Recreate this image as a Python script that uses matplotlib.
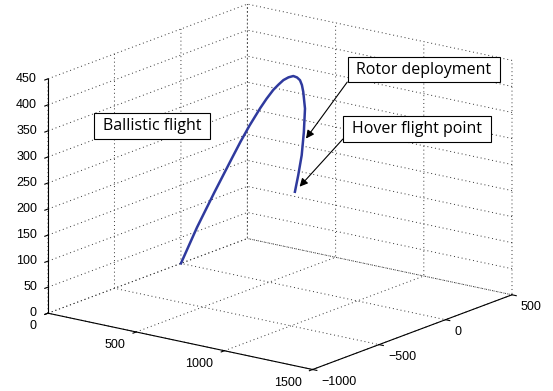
import matplotlib
matplotlib.use("Agg")
import matplotlib.pyplot as plt
from mpl_toolkits.mplot3d import proj3d

# flight path (m)
x_path = [0, 117, 243, 370, 433, 497, 574, 621, 670, 708, 743, 780, 815, 842, 864, 878, 887, 900, 892, 876, 851, 827]
y_path = [0, -34, -70, -107, -126, -144, -166, -180, -194, -205, -215, -226, -236, -244, -251, -255, -257, -261, -259, -254, -247, -240]
z_path = [0, 81, 161, 239, 277, 314, 355, 378, 400, 414, 426, 435, 441, 441, 438, 430, 418, 387, 341, 295, 254, 220]

rotor_pt = (898, -260, 326)
hover_pt = (x_path[-1], y_path[-1], z_path[-1])

x_ticks = [0, 500, 1000, 1500]
y_ticks = [-1000, -500, 0, 500]
z_ticks = [0, 50, 100, 150, 200, 250, 300, 350, 400, 450]
x_labels = ["0", "500", "1000", "1500"]
y_labels = ["\u22121000", "\u2212500", "0", "500"]
z_labels = [str(t) for t in z_ticks]

plt.rcParams["font.family"] = "Liberation Sans"
W, H = 553, 391
fig = plt.figure(figsize=(W / 100, H / 100), dpi=100)
ax = fig.add_axes([0.2, 0.0, H / W, 1.0], projection="3d")
ax.set_proj_type("ortho")
ax.view_init(elev=16.4, azim=-53)
ax.set_box_aspect((4, 4, 2.95))
ax.set_xlim(0, 1500)
ax.set_ylim(-1000, 500)
ax.set_zlim(0, 450)
ax.set_xticks(x_ticks)
ax.set_yticks(y_ticks)
ax.set_zticks(z_ticks)
ax.set_xticklabels([])
ax.set_yticklabels([])
ax.set_zticklabels([])
ax.zaxis.set_ticks_position("lower")

for axis in (ax.xaxis, ax.yaxis, ax.zaxis):
    axis.set_pane_color((1, 1, 1, 0))
    axis.pane.set_edgecolor((1, 1, 1, 0))
    axis._axinfo["grid"].update(color="0.2", linewidth=0.7, linestyle=(0, (1, 3)))
    axis._axinfo["tick"].update(inward_factor=0.2, outward_factor=0.0, linewidth={True: 0.8, False: 0.5})
    axis.line.set_color("k")
    axis.line.set_linewidth(0.8)

ax.plot(x_path, y_path, z_path, color="#2f3a9e", lw=1.8)

# fit the box to the reference position
fig.canvas.draw()


def to_2d(x, y, z):
    u, v, _ = proj3d.proj_transform(x, y, z, ax.get_proj())
    return u, v


a = ax.transData.transform(to_2d(0, -1000, 0))
c = ax.transData.transform(to_2d(1500, 500, 0))
d = ax.transData.transform(to_2d(0, -1000, 450))
bb = ax.get_position()
k = (512 - 48) / (c[0] - a[0])
x0 = 48 - k * (a[0] - bb.x0 * W)
y0 = (H - (313 + 79) / 2) - k * ((a[1] + d[1]) / 2 - bb.y0 * H)
ax.set_position([x0 / W, y0 / H, bb.width * k, bb.height * k])

# tick labels placed like the original
for t, s in zip(x_ticks, x_labels):
    ax.annotate(s, xy=to_2d(t, -1000, 0), xytext=(-11, -13), textcoords="offset pixels",
                ha="right", va="center", fontsize=9, annotation_clip=False)
for t, s in zip(y_ticks, y_labels):
    ax.annotate(s, xy=to_2d(1500, t, 0), xytext=(9, -12), textcoords="offset pixels",
                ha="left", va="center", fontsize=9, annotation_clip=False)
for t, s in zip(z_ticks, z_labels):
    ax.annotate(s, xy=to_2d(0, -1000, t), xytext=(-11, 0), textcoords="offset pixels",
                ha="right", va="center", fontsize=9, annotation_clip=False)

box = dict(boxstyle="square,pad=0.55", fc="white", ec="black", lw=0.8, mutation_aspect=0.55)
ax.annotate("Rotor deployment", xy=to_2d(*rotor_pt), xycoords="data",
            xytext=(424, H - 69.5), textcoords="figure pixels",
            ha="center", va="center", fontsize=11.5, family="Open Sans", bbox=box,
            arrowprops=dict(arrowstyle="-|>", color="k", lw=0.8, mutation_scale=12,
                            shrinkA=0, shrinkB=1.5, relpos=(0, 0.5)),
            annotation_clip=False)
ax.annotate("Hover flight point", xy=to_2d(*hover_pt), xycoords="data",
            xytext=(417, H - 129), textcoords="figure pixels",
            ha="center", va="center", fontsize=11.5, family="Open Sans", bbox=box,
            arrowprops=dict(arrowstyle="-|>", color="k", lw=0.8, mutation_scale=12,
                            shrinkA=0, shrinkB=5, relpos=(0, 0.5)),
            annotation_clip=False)
fig.text(152 / W, 1 - 126 / H, "Ballistic flight", ha="center", va="center",
         fontsize=11.5, family="Open Sans", bbox=box)

fig.savefig("out.png", dpi=100)
